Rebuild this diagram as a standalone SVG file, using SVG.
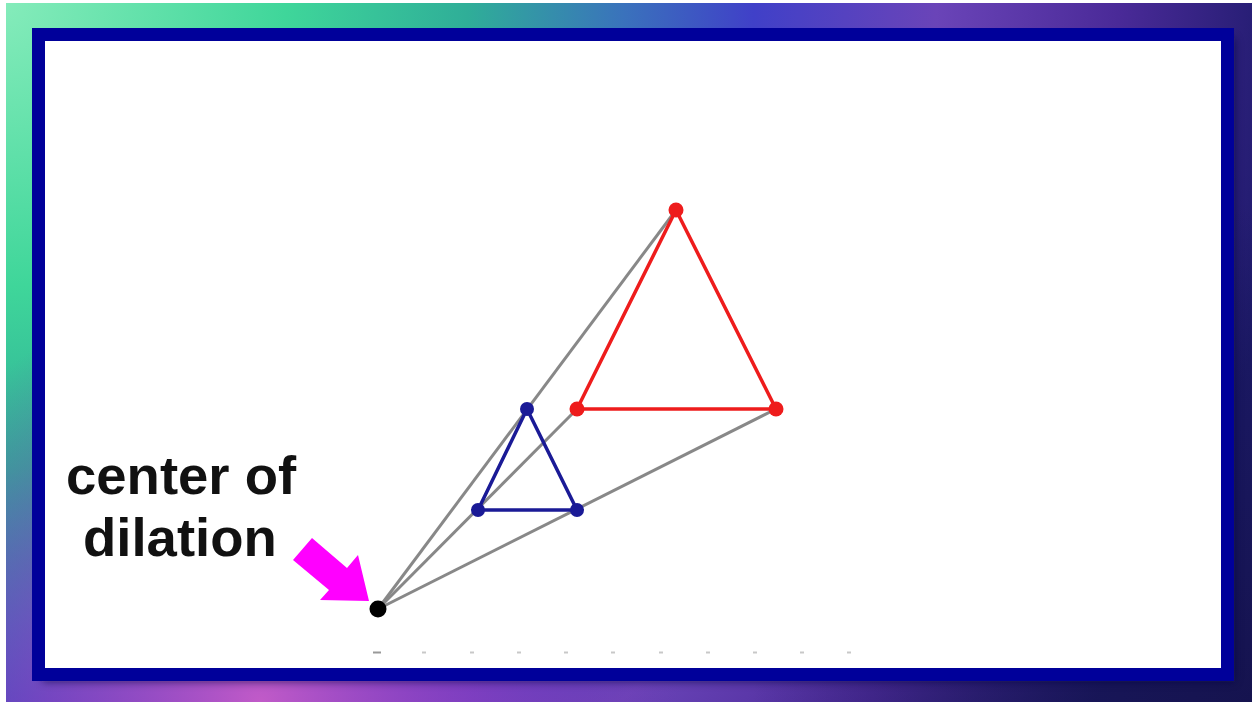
<svg xmlns="http://www.w3.org/2000/svg" width="1252" height="702" viewBox="0 0 1252 702">
  <defs>
    <radialGradient id="bg" cx="0" cy="0" r="1300" gradientUnits="userSpaceOnUse">
      <stop offset="0" stop-color="#86ecbb"/>
      <stop offset="0.22" stop-color="#3fd69a"/>
      <stop offset="0.36" stop-color="#2fae98"/>
      <stop offset="0.48" stop-color="#3a72bc"/>
      <stop offset="0.58" stop-color="#4040c8"/>
      <stop offset="0.72" stop-color="#6a44b8"/>
      <stop offset="0.86" stop-color="#4a2a98"/>
      <stop offset="1" stop-color="#1c1a6a"/>
    </radialGradient>
    <radialGradient id="mag" cx="260" cy="702" r="420" gradientUnits="userSpaceOnUse">
      <stop offset="0" stop-color="#c85cc8" stop-opacity="0.95"/>
      <stop offset="0.5" stop-color="#9a3cc0" stop-opacity="0.6"/>
      <stop offset="1" stop-color="#7a30b0" stop-opacity="0"/>
    </radialGradient>
    <radialGradient id="dark" cx="1252" cy="702" r="500" gradientUnits="userSpaceOnUse">
      <stop offset="0" stop-color="#14124a" stop-opacity="0.85"/>
      <stop offset="1" stop-color="#14124a" stop-opacity="0"/>
    </radialGradient>
    <filter id="sh" x="-5%" y="-5%" width="110%" height="110%">
      <feGaussianBlur stdDeviation="4"/>
    </filter>
  </defs>
  <style>
    .ray { stroke: #888888; stroke-width: 3; fill: none; }
    .red { stroke: #ee1c1c; stroke-width: 3.5; fill: none; stroke-linejoin: round; }
    .blue { stroke: #1a1a96; stroke-width: 3.5; fill: none; stroke-linejoin: round; }
    .rdot { fill: #ee1c1c; }
    .bdot { fill: #1a1a96; }
    .lbl { font-family: "Liberation Sans", Arial, sans-serif; font-weight: bold; font-size: 54.5px; fill: #111111; }
    .tick { stroke: #c8c8c8; stroke-width: 2; }
  </style>

  <!-- background -->
  <rect x="0" y="0" width="1252" height="702" fill="#ffffff"/>
  <g id="background">
    <rect x="6" y="3" width="1246" height="699" fill="url(#bg)"/>
    <rect x="6" y="3" width="1246" height="699" fill="url(#mag)"/>
    <rect x="6" y="3" width="1246" height="699" fill="url(#dark)"/>
  </g>

  <!-- frame -->
  <g id="frame">
    <rect x="42" y="38" width="1193" height="644" fill="#0c0c40" opacity="0.6" filter="url(#sh)"/>
    <rect x="38.5" y="34.5" width="1189" height="640" fill="#ffffff" stroke="#00009a" stroke-width="13"/>
  </g>

  <!-- ticks -->
  <g id="ticks">
    <line class="tick" x1="373" y1="652.5" x2="381" y2="652.5" style="stroke:#999999"/>
    <line class="tick" x1="422" y1="652.5" x2="426" y2="652.5"/>
    <line class="tick" x1="470" y1="652.5" x2="474" y2="652.5"/>
    <line class="tick" x1="517" y1="652.5" x2="521" y2="652.5"/>
    <line class="tick" x1="564" y1="652.5" x2="568" y2="652.5"/>
    <line class="tick" x1="611" y1="652.5" x2="615" y2="652.5"/>
    <line class="tick" x1="659" y1="652.5" x2="663" y2="652.5"/>
    <line class="tick" x1="706" y1="652.5" x2="710" y2="652.5"/>
    <line class="tick" x1="753" y1="652.5" x2="757" y2="652.5"/>
    <line class="tick" x1="800" y1="652.5" x2="804" y2="652.5"/>
    <line class="tick" x1="847" y1="652.5" x2="851" y2="652.5"/>
  </g>

  <!-- connectors: rays from center -->
  <g id="connectors">
    <line class="ray" x1="378" y1="609" x2="676" y2="210"/>
    <line class="ray" x1="378" y1="609" x2="577" y2="409"/>
    <line class="ray" x1="378" y1="609" x2="776" y2="409"/>
  </g>

  <g id="image-triangle">
    <polygon class="red" points="676,210 577,409 776,409"/>
    <circle class="rdot" cx="676" cy="210" r="7.5"/>
    <circle class="rdot" cx="577" cy="409" r="7.5"/>
    <circle class="rdot" cx="776" cy="409" r="7.5"/>
  </g>

  <g id="preimage-triangle">
    <polygon class="blue" points="527,409 478,510 577,510"/>
    <circle class="bdot" cx="527" cy="409" r="7"/>
    <circle class="bdot" cx="478" cy="510" r="7"/>
    <circle class="bdot" cx="577" cy="510" r="7"/>
  </g>

  <g id="center">
    <circle cx="378" cy="609" r="8.5" fill="#000000"/>
  </g>

  <g id="label">
    <text class="lbl" x="66" y="494">center of</text>
    <text class="lbl" x="83" y="556">dilation</text>
  </g>

  <g id="arrow">
    <polygon fill="#ff00ff" points="312,538 347,568 358,555 369,601 320,600 329,590 293,560"/>
  </g>
</svg>
